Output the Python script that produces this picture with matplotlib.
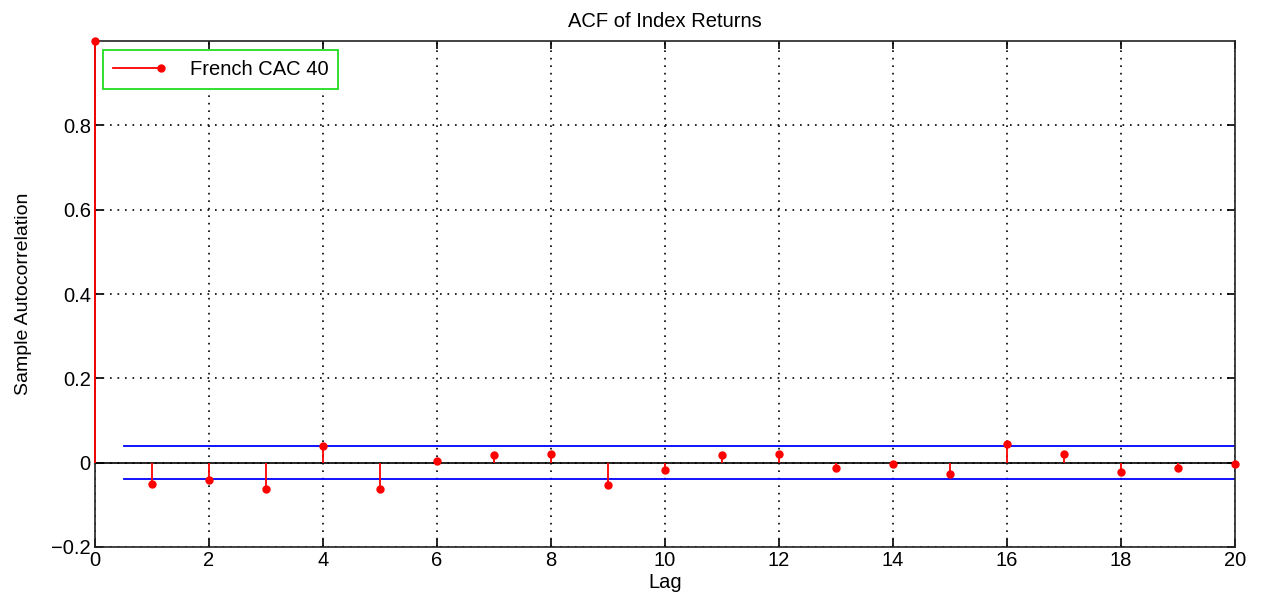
import numpy as np
import matplotlib.pyplot as plt
from matplotlib.lines import Line2D
from matplotlib.legend_handler import HandlerBase

lags = np.arange(0, 21)
acf = [1.0, -0.051, -0.042, -0.063, 0.040, -0.063, 0.004, 0.018, 0.021, -0.054,
       -0.017, 0.018, 0.021, -0.013, -0.002, -0.027, 0.045, 0.021, -0.021, -0.013, -0.003]
bound = 0.039
bound_x = [0.5, 20]

plt.rcParams['font.family'] = ['Liberation Sans', 'DejaVu Sans']


class StemHandler(HandlerBase):
    # matlab style stem legend: line with a marker at the right end only
    def create_artists(self, legend, orig, xd, yd, width, height, fontsize, trans):
        y = height / 2 - yd
        ln = Line2D([-xd, width - xd], [y, y], color='red', lw=1.3, transform=trans)
        mk = Line2D([width - xd], [y], color='red', marker='o', ms=5, ls='none',
                    transform=trans)
        return [ln, mk]


fig = plt.figure(figsize=(12.63, 5.98), dpi=100)
ax = fig.add_axes([95/1263, 51/598, 1140/1263, 506/598])

ax.vlines(lags, 0, acf, color='red', lw=1.3, zorder=5, clip_on=False)
ax.plot(lags, acf, 'o', color='red', ms=5, zorder=6, clip_on=False)
ax.axhline(0, color='black', lw=1.2, zorder=2)
ax.plot(bound_x, [bound, bound], color='blue', lw=1.3, zorder=2)
ax.plot(bound_x, [-bound, -bound], color='blue', lw=1.3, zorder=2)

ax.set_xlim(0, 20)
ax.set_ylim(-0.2, 1.0)
ax.set_xticks(range(0, 21, 2))
ax.set_yticks([-0.2, 0, 0.2, 0.4, 0.6, 0.8])
ax.set_yticklabels(['\u22120.2', '0', '0.2', '0.4', '0.6', '0.8'])
ax.grid(True, color='black', ls=(0, (1, 3.5)), lw=1.2)
ax.tick_params(direction='in', top=True, right=True, length=6, width=1.2,
               labelsize=14.5, pad=3)
for s in ax.spines.values():
    s.set_linewidth(1.2)
    s.set_color('#222222')

ax.set_title('ACF of Index Returns', fontsize=14.5, pad=10)
ax.set_xlabel('Lag', fontsize=14.5, labelpad=2)
ax.set_ylabel('Sample Autocorrelation', fontsize=14, labelpad=14)

h = Line2D([], [])
leg = ax.legend([h], ['French CAC 40'], loc='upper left', handler_map={Line2D: StemHandler()},
                fontsize=14.5, fancybox=False, framealpha=1,
                bbox_to_anchor=(0.007, 0.983), borderpad=0.5, handlelength=2.4,
                handletextpad=1.4, borderaxespad=0)
leg.get_frame().set_edgecolor('#22dd22')
leg.get_frame().set_linewidth(1.3)

fig.savefig('out.png', dpi=100)
